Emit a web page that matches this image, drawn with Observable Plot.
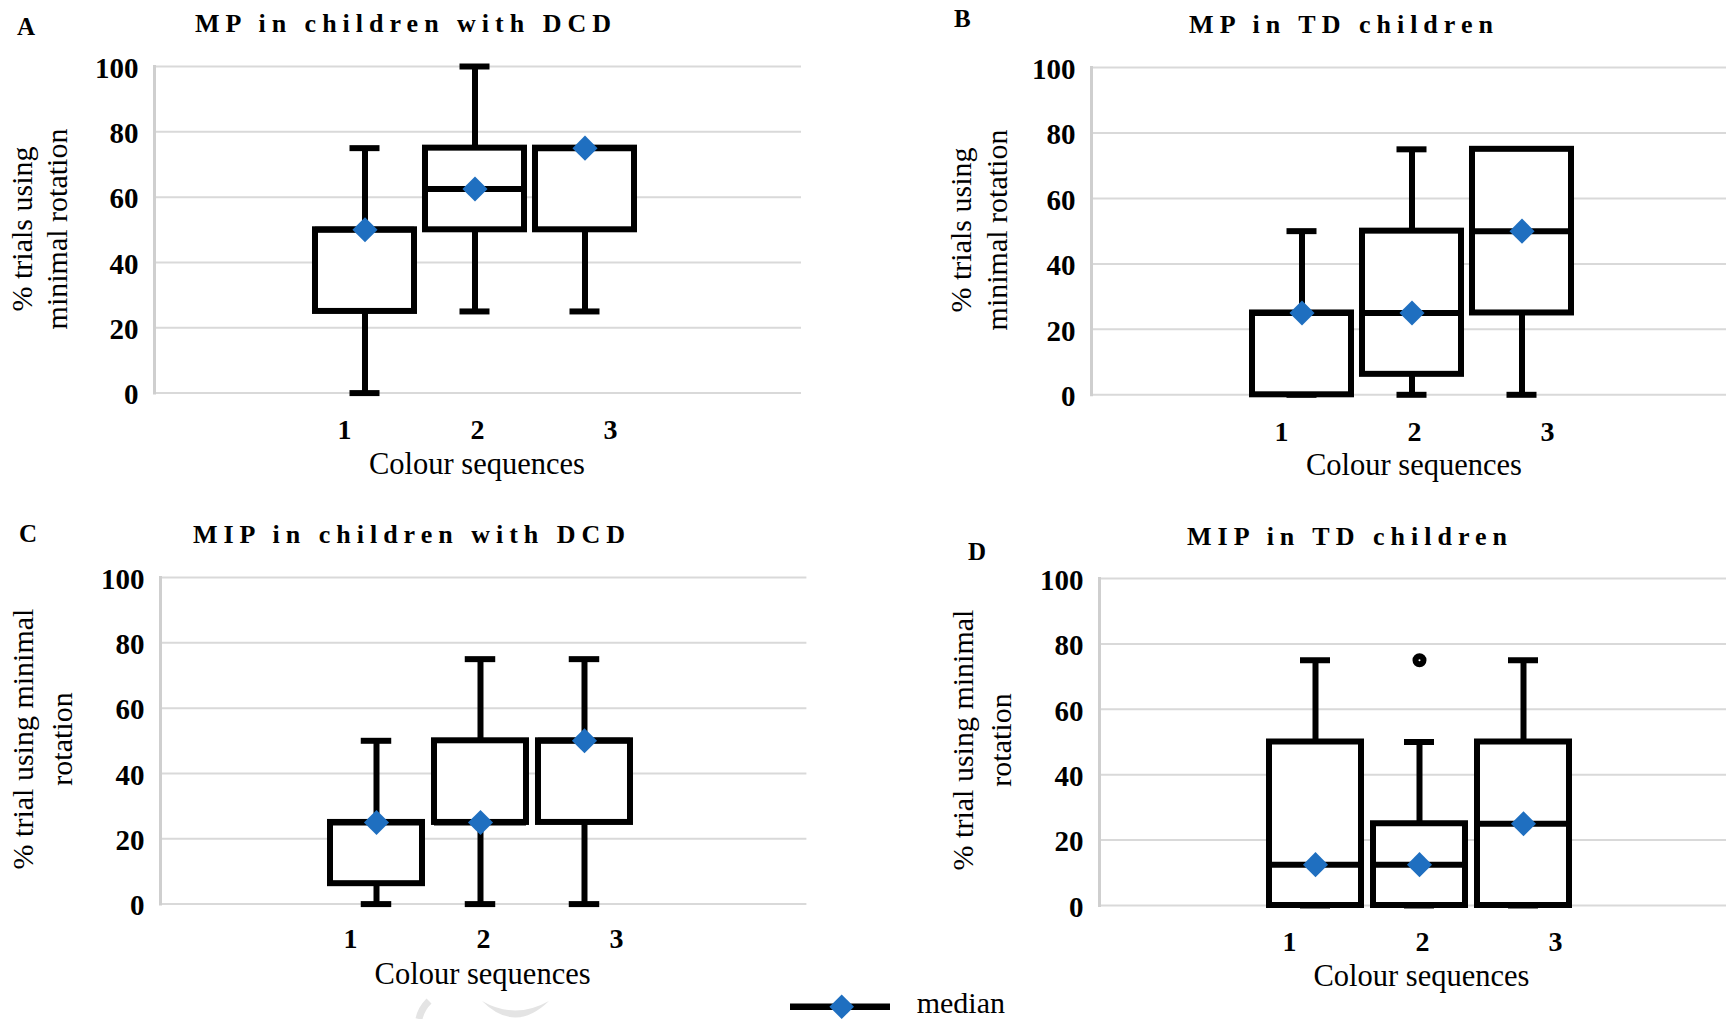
<!DOCTYPE html>
<html>
<head>
<meta charset="utf-8">
<script src="https://cdn.jsdelivr.net/npm/d3@7"></script>
<script src="https://cdn.jsdelivr.net/npm/@observablehq/plot@0.6"></script>
<style>
html, body { margin: 0; padding: 0; background: #fff; overflow: hidden; }
#page { position: relative; width: 1726px; height: 1019px; overflow: hidden; background: #fff; }
#page > svg { position: absolute; }
</style>
</head>
<body>
<div id="page"></div>
<script>
// ---------------- data ----------------
const categories = ["1", "2", "3"];
const yTicks = [0, 20, 40, 60, 80, 100];

// A: MP in children with DCD
const mpDcdMin = [0, 25, 25];
const mpDcdQ1 = [25, 50, 50];
const mpDcdMedian = [50, 62.5, 75];
const mpDcdQ3 = [50, 75, 75];
const mpDcdMax = [75, 100, 75];

// B: MP in TD children
const mpTdMin = [0, 0, 0];
const mpTdQ1 = [0, 6.25, 25];
const mpTdMedian = [25, 25, 50];
const mpTdQ3 = [25, 50, 75];
const mpTdMax = [50, 75, 75];

// C: MIP in children with DCD
const mipDcdMin = [0, 0, 0];
const mipDcdQ1 = [6.25, 25, 25];
const mipDcdMedian = [25, 25, 50];
const mipDcdQ3 = [25, 50, 50];
const mipDcdMax = [50, 75, 75];

// D: MIP in TD children
const mipTdMin = [0, 0, 0];
const mipTdQ1 = [0, 0, 0];
const mipTdMedian = [12.5, 12.5, 25];
const mipTdQ3 = [50, 25, 50];
const mipTdMax = [75, 50, 75];
const mipTdOutlierCategory = ["2"];
const mipTdOutlierValue = [75];

const titles = ["MP in children with DCD", "MP in TD children", "MIP in children with DCD", "MIP in TD children"];
const panelLetters = ["A", "B", "C", "D"];
const yLabels = [
  ["% trials using", "minimal rotation"],
  ["% trials using", "minimal rotation"],
  ["% trial using minimal", "rotation"],
  ["% trial using minimal", "rotation"]
];
const xLabel = "Colour sequences";
const legendLabel = "median";

// ---------------- style / layout ----------------
const FONT = "'Liberation Serif', 'Times New Roman', Times, serif";
const BLUE = "#1f6fc0";
const GRID = "#d9d9d9";

const layouts = [
  {frameL: 154, frameR: 801, frameT: 65.7, frameB: 392.3, step: 110, pad: 0.1, tickBase: 438,
   title: [406, 32], letter: [17, 35], ylab: [32.3, 229, 34.4], xlab: 473.5},
  {frameL: 1091, frameR: 1738, frameT: 66.7, frameB: 394, step: 110, pad: 0.1, tickBase: 440,
   title: [1344, 33], letter: [954, 27], ylab: [971, 230, 36], xlab: 474.5},
  {frameL: 159.6, frameR: 806, frameT: 576.7, frameB: 903.3, step: 104, pad: 0.12, tickBase: 948,
   title: [412, 543], letter: [19, 542], ylab: [33.3, 739, 38.4], xlab: 984},
  {frameL: 1098.5, frameR: 1745, frameT: 578, frameB: 905, step: 104.5, pad: 0.12, tickBase: 950,
   title: [1350, 545], letter: [968, 560], ylab: [973, 740, 38.4], xlab: 985.5}
];

const panels = [
  {min: mpDcdMin, q1: mpDcdQ1, median: mpDcdMedian, q3: mpDcdQ3, max: mpDcdMax, outCat: [], outVal: []},
  {min: mpTdMin, q1: mpTdQ1, median: mpTdMedian, q3: mpTdQ3, max: mpTdMax, outCat: [], outVal: []},
  {min: mipDcdMin, q1: mipDcdQ1, median: mipDcdMedian, q3: mipDcdQ3, max: mipDcdMax, outCat: [], outVal: []},
  {min: mipTdMin, q1: mipTdQ1, median: mipTdMedian, q3: mipTdQ3, max: mipTdMax, outCat: mipTdOutlierCategory, outVal: mipTdOutlierValue}
];

const page = document.getElementById("page");
const mL = 150, mR = 10, mT = 20, mB = 20;

// faint watermark fragments peeking out below the charts (drawn first, behind everything)
const under = d3.select(page).append("svg")
  .attr("width", 1726).attr("height", 1019)
  .style("left", "0px").style("top", "0px");
under.append("path").attr("d", "M429,1001 Q421,1009 419,1019").attr("fill", "none")
  .attr("stroke", "#e4e4e4").attr("stroke-width", 7);
under.append("path").attr("d", "M482,1001 Q515,1034 549,1001 Q515,1020 482,1001 Z")
  .attr("fill", "#e4e4e4");

panels.forEach((p, k) => {
  const L = layouts[k];
  const fw = L.frameR - L.frameL, fh = L.frameB - L.frameT;
  const width = mL + fw + mR, height = mT + fh + mB;
  const c2 = mL + 320;
  const bw = L.step * (1 - L.pad);
  const capInset = (bw - 30) / 2;
  const rows = categories.map((c, i) => ({cat: c, min: p.min[i], q1: p.q1[i], median: p.median[i], q3: p.q3[i], max: p.max[i]}));
  const outliers = p.outCat.map((c, i) => ({cat: c, value: p.outVal[i]}));

  const chart = Plot.plot({
    width, height, marginLeft: mL, marginRight: mR, marginTop: mT, marginBottom: mB,
    style: {fontFamily: FONT, fontSize: "29px", fontWeight: "bold", color: "#000", background: "transparent", overflow: "visible"},
    x: {type: "band", domain: categories, range: [c2 - 1.5 * L.step, c2 + 1.5 * L.step], paddingInner: L.pad, paddingOuter: L.pad / 2, axis: null},
    y: {domain: [0, 100]},
    marks: [
      Plot.ruleY(yTicks, {stroke: GRID, strokeWidth: 2}),
      Plot.frame({anchor: "left", stroke: "#cfcfcf", strokeWidth: 3}),
      Plot.axisY(yTicks, {tickSize: 0, tickPadding: 16, fontSize: 29, fontWeight: "bold", dy: 2, label: null}),
      Plot.ruleX(rows, {x: "cat", y1: "q3", y2: "max", stroke: "#000", strokeWidth: 6}),
      Plot.ruleX(rows, {x: "cat", y1: "min", y2: "q1", stroke: "#000", strokeWidth: 6}),
      Plot.tickY(rows, {x: "cat", y: "max", stroke: "#000", strokeWidth: 6, insetLeft: capInset, insetRight: capInset}),
      Plot.tickY(rows, {x: "cat", y: "min", stroke: "#000", strokeWidth: 6, insetLeft: capInset, insetRight: capInset}),
      Plot.barY(rows, {x: "cat", y1: "q1", y2: "q3", fill: "#fff", stroke: "#000", strokeWidth: 6}),
      Plot.tickY(rows, {x: "cat", y: "median", stroke: "#000", strokeWidth: 6}),
      Plot.dot(outliers, {x: "cat", y: "value", r: 4, fill: "#fff", stroke: "#000", strokeWidth: 6}),
      Plot.dot(rows, {x: "cat", y: "median", symbol: "diamond2", r: 11.3, fill: BLUE, stroke: "none"})
    ]
  });
  chart.style.left = (L.frameL - mL) + "px";
  chart.style.top = (L.frameT - mT) + "px";
  page.appendChild(chart);

  // category tick labels (Excel places them on their own spacing)
  const lh = 50, lb = 10;
  const labels = Plot.plot({
    width, height: lh, marginLeft: mL, marginRight: mR, marginTop: 0, marginBottom: lb,
    style: {fontFamily: FONT, fontWeight: "bold", color: "#000", background: "transparent", overflow: "visible"},
    x: {type: "point", domain: categories, range: [mL + 190, mL + 456], padding: 0, axis: null},
    marks: [
      Plot.text(categories, {x: d => d, frameAnchor: "bottom", lineAnchor: "bottom", fontSize: 28, fontWeight: "bold"})
    ]
  });
  labels.style.left = (L.frameL - mL) + "px";
  labels.style.top = (L.tickBase - (lh - lb)) + "px";
  page.appendChild(labels);
});

// ---------------- overlay text & legend ----------------
const over = d3.select(page).append("svg")
  .attr("width", 1726).attr("height", 1019)
  .style("left", "0px").style("top", "0px")
  .style("font-family", FONT).attr("fill", "#000");

layouts.forEach((L, k) => {
  over.append("text").attr("x", L.title[0]).attr("y", L.title[1])
    .attr("text-anchor", "middle").attr("font-size", 26).attr("font-weight", "bold")
    .attr("letter-spacing", 6).text(titles[k]);
  over.append("text").attr("x", L.letter[0]).attr("y", L.letter[1])
    .attr("font-size", 25).attr("font-weight", "bold").text(panelLetters[k]);
  const yl = over.append("text")
    .attr("transform", `translate(${L.ylab[0]},${L.ylab[1]}) rotate(-90)`)
    .attr("text-anchor", "middle").attr("font-size", 30);
  yLabels[k].forEach((line, j) => {
    yl.append("tspan").attr("x", 0).attr("y", j * L.ylab[2]).text(line);
  });
  over.append("text").attr("x", L.frameL + 323).attr("y", L.xlab)
    .attr("text-anchor", "middle").attr("font-size", 30.5).text(xLabel);
});

// legend
const lg = over.append("g");
lg.append("line").attr("x1", 790).attr("x2", 890).attr("y1", 1006.7).attr("y2", 1006.7)
  .attr("stroke", "#000").attr("stroke-width", 6.5);
lg.append("path").attr("transform", "translate(841.7,1006.7)")
  .attr("d", d3.symbol(d3.symbolDiamond2, 386)()).attr("fill", BLUE);
lg.append("text").attr("x", 916.7).attr("y", 1013).attr("font-size", 30).text(legendLabel);
</script>
</body>
</html>
